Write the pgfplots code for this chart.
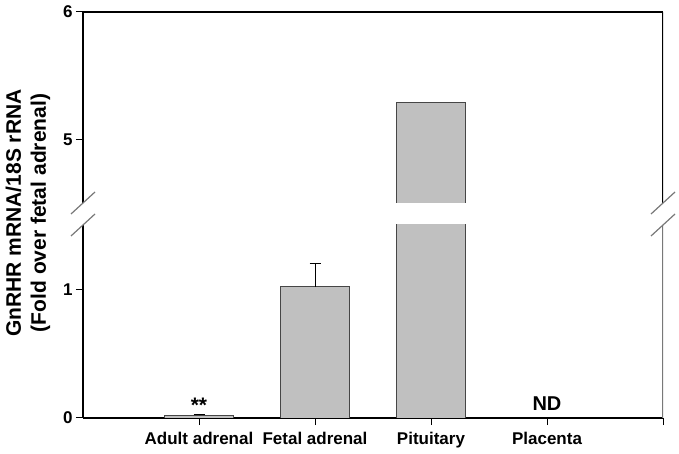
\documentclass[border=0pt]{standalone}
\usepackage{pgfplots}
\pgfplotsset{compat=1.18}
\usepackage{fontspec}
\setmainfont{Liberation Sans}

\definecolor{barfill}{RGB}{192,192,192}
\definecolor{baredge}{RGB}{70,70,70}
\definecolor{rline}{RGB}{120,120,120}

\pgfplotsset{
  brk/.style={
    scale only axis, width=580pt, xmin=0, xmax=5,
    tick align=outside, major tick length=7pt,
    tick style={black, line width=1pt},
    /pgf/number format/assume math mode=true,
    tick label style={font=\fontsize{17}{20}\selectfont\bfseries},
  },
  barplot/.style={ybar, bar width=0.6, fill=barfill, draw=baredge, line width=0.9pt},
}

\begin{document}
\begin{tikzpicture}
\useasboundingbox (-83pt,-36pt) rectangle (596pt,418pt);

% lower segment 0 - 1.5
\begin{axis}[brk, at={(0pt,0pt)}, anchor=south west, height=193pt,
  ymin=0, ymax=1.5, ytick={0,1},
  xtick={1,2,3,4,5}, xticklabels={Adult adrenal,Fetal adrenal,Pituitary,Placenta,},
  x tick label style={yshift=-4pt},
  axis x line*=bottom, axis y line*=left,
  axis line style={line width=1.5pt, -},
]
\addplot[barplot] coordinates {(1,0.02) (2,1.02) (3,5.29)};
\addplot[draw=none, mark=none, error bars/.cd, y dir=plus, y explicit,
  error bar style={black, line width=1pt},
  error mark options={black, line width=1pt, mark size=5.5pt, rotate=90}]
  coordinates {(1,0.02) +- (0,0.01) (2,1.02) +- (0,0.18)};
\draw[line width=1.5pt, rline] (rel axis cs:1,0) -- (rel axis cs:1,1);
\node[anchor=south, font=\fontsize{21}{24}\selectfont\bfseries, inner sep=1pt] at (axis cs:1,0.03) {**};
\node[anchor=south, font=\fontsize{20}{24}\selectfont\bfseries, inner sep=0pt] at (axis cs:4,0.06) {ND};
\end{axis}

% upper segment 4.5 - 6
\begin{axis}[brk, at={(0pt,215pt)}, anchor=south west, height=191pt,
  ymin=4.5, ymax=6, ytick={5,6}, xtick=\empty,
  axis x line*=top, axis y line*=left,
  axis line style={line width=1.5pt, -},
  x axis line style={line width=2.5pt},
]
\addplot[barplot] coordinates {(3,5.29)};
\draw[line width=1.5pt, black] (rel axis cs:1,0) -- (rel axis cs:1,1);
\end{axis}

% axis break marks
\foreach \x in {0pt,580pt}{
  \draw[line width=1.2pt, rline] ([shift={(-12pt,-11pt)}]\x,193pt) -- ([shift={(12pt,11pt)}]\x,193pt);
  \draw[line width=1.2pt, rline] ([shift={(-12pt,-11pt)}]\x,215pt) -- ([shift={(12pt,11pt)}]\x,215pt);
}

\node[rotate=90, align=center, font=\fontsize{21}{25}\selectfont\bfseries]
  at (-55pt,205pt) {GnRHR mRNA/18S rRNA\\(Fold over fetal adrenal)};
\end{tikzpicture}
\end{document}
